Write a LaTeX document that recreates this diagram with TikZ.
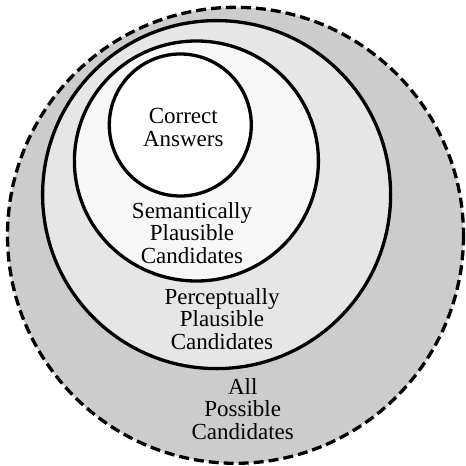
\documentclass[tikz,border=0pt]{standalone}
\usepackage{fontspec}
\setmainfont{Liberation Serif}
\definecolor{allfill}{HTML}{CCCCCC}
\definecolor{percfill}{HTML}{E6E6E6}
\definecolor{semfill}{HTML}{F7F7F7}
\tikzset{
  setline/.style={draw=black, line width=3.3pt},
  outerline/.style={draw=black, line width=3.3pt, dash pattern=on 10pt off 5pt},
  lbl/.style={align=center, inner sep=0pt, font=\fontsize{23}{22.7}\selectfont}
}
\begin{document}
\begin{tikzpicture}[x=1pt,y=-1pt]
\useasboundingbox (0,0) rectangle (466,466);
\fill[allfill] (235.5,235.3) circle (228);
\draw[setline, fill=percfill] (216.6,194.6) circle (174);
\draw[setline, fill=semfill] (196.4,161) ellipse (122 and 120);
\draw[setline, fill=white] (180.3,125) circle (71);
\draw[outerline] (235.5,235.3) circle (228);
\node[lbl] (correct) at (183.3,127.5) {Correct\\Answers};
\node[lbl] (sem) at (192,233) {Semantically\\Plausible\\Candidates};
\node[lbl] (perc) at (222,319) {Perceptually\\Plausible\\Candidates};
\node[lbl] (all) at (242.7,409) {All\\Possible\\Candidates};
\end{tikzpicture}
\end{document}
